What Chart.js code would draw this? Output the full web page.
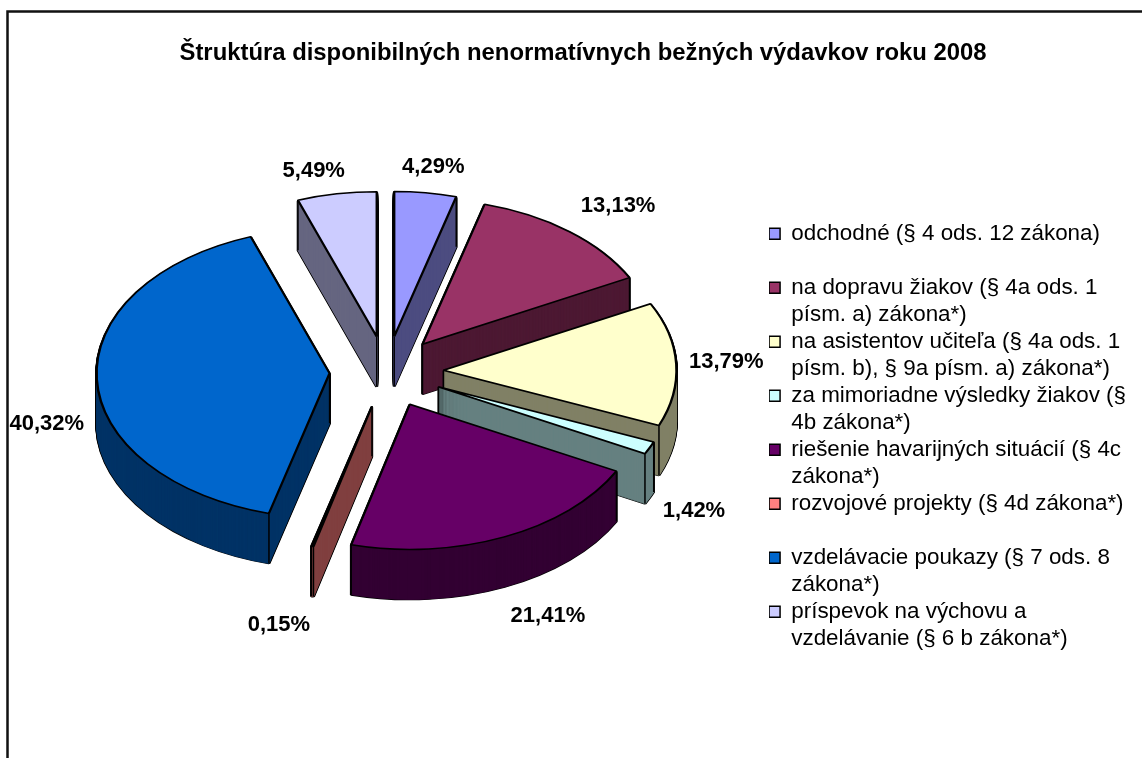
<!DOCTYPE html>
<html>
<head>
<meta charset="utf-8">
<title>Štruktúra výdavkov</title>
<script src="https://cdn.jsdelivr.net/npm/chart.js@4"></script>
<style>
  html, body { margin: 0; padding: 0; background: #fff; overflow: hidden; }
  #wrap { width: 1142px; height: 758px; }
</style>
</head>
<body>
<div id="wrap"><canvas id="pie" width="1142" height="758"></canvas></div>
<script>
const chartTitle = 'Štruktúra disponibilných nenormatívnych bežných výdavkov roku 2008';
const categories = [
    ['odchodné (§ 4 ods. 12 zákona)', ''],
    ['na dopravu žiakov (§ 4a ods. 1', 'písm. a) zákona*)'],
    ['na asistentov učiteľa (§ 4a ods. 1', 'písm. b), § 9a písm. a) zákona*)'],
    ['za mimoriadne výsledky žiakov (§', '4b zákona*)'],
    ['riešenie havarijných situácií (§ 4c', 'zákona*)'],
    ['rozvojové projekty (§ 4d zákona*)', ''],
    ['vzdelávacie poukazy (§ 7 ods. 8', 'zákona*)'],
    ['príspevok na výchovu a', 'vzdelávanie (§ 6 b zákona*)']
];
const shares = [4.29, 13.13, 13.79, 1.42, 21.41, 0.15, 40.32, 5.49];
const shareLabels = ['4,29%', '13,13%', '13,79%', '1,42%', '21,41%', '0,15%', '40,32%', '5,49%'];
const topColors = ['#9999FF', '#993366', '#FFFFCC', '#CCFFFF', '#660066', '#FF8080', '#0066CC', '#CCCCFF'];
const wallColors = ['#4D4D80', '#4D1933', '#808066', '#668080', '#330033', '#804040', '#003366', '#666680'];

// 3D look of the old Excel pie
const tilt = 0.623;
const depth = 50;
const explode = 57;
const pieRadius = 233;
const labelReach = 296;
const drawOrder = [7, 0, 1, 6, 2, 3, 4, 5];
const labelShift = [[7, -22], [45, -23], [44, -2], [39, 61], [41, 76], [-32, 75], [-44, 45], [-22, -19]];

function drawArcAt(ctx, arc, dy, opts) {
    const mid = (arc.startAngle + arc.endAngle) / 2;
    const base = arc.options;
    ctx.save();
    ctx.translate(arc.x, arc.y + dy);
    ctx.scale(1, tilt);
    ctx.translate(-arc.x, -arc.y);
    ctx.translate(Math.cos(mid) * explode, Math.sin(mid) * explode);
    arc.options = Object.assign({}, base, opts);
    arc.draw(ctx);
    arc.options = base;
    ctx.restore();
}

const pie3d = {
    id: 'pie3d',
    afterLayout(chart) {
        // legend and plot are not where the layout boxes put them in the original
        const legend = chart.legend;
        legend.top += 81;
        legend.bottom += 81;
        legend.left -= 6;
        legend.right -= 6;
        chart.chartArea.left -= 13;
        chart.chartArea.right -= 13;
    },
    beforeDatasetsDraw(chart) {
        const ctx = chart.ctx;
        const arcs = chart.getDatasetMeta(0).data;

        drawOrder.forEach(i => {
            const arc = arcs[i];
            const mid = (arc.startAngle + arc.endAngle) / 2;
            // black outline of the wall, then the wall colour over it
            for (let d = depth; d > 0; d -= 1) {
                drawArcAt(ctx, arc, d, { backgroundColor: '#000', borderColor: '#000', borderWidth: 3 });
            }
            for (let d = depth; d > 0; d -= 1) {
                drawArcAt(ctx, arc, d, { backgroundColor: wallColors[i], borderColor: wallColors[i], borderWidth: 1.2 });
            }
            // vertical edges at the corners of the slice
            const ox = arc.x + Math.cos(mid) * explode;
            const oy = arc.y + Math.sin(mid) * explode * tilt;
            const corners = [
                [ox, oy],
                [ox + Math.cos(arc.startAngle) * pieRadius, oy + Math.sin(arc.startAngle) * pieRadius * tilt],
                [ox + Math.cos(arc.endAngle) * pieRadius, oy + Math.sin(arc.endAngle) * pieRadius * tilt]
            ];
            ctx.save();
            ctx.strokeStyle = '#000';
            ctx.lineWidth = 1.5;
            corners.forEach(c => {
                ctx.beginPath();
                ctx.moveTo(c[0], c[1]);
                ctx.lineTo(c[0], c[1] + depth);
                ctx.stroke();
            });
            ctx.restore();
            drawArcAt(ctx, arc, 0, { backgroundColor: topColors[i], borderColor: '#000', borderWidth: 2.4 });
        });

        // percentage labels
        ctx.save();
        ctx.font = 'bold 22px "Liberation Sans"';
        ctx.fillStyle = '#000';
        ctx.textAlign = 'center';
        ctx.textBaseline = 'middle';
        arcs.forEach((arc, i) => {
            const mid = (arc.startAngle + arc.endAngle) / 2;
            ctx.fillText(shareLabels[i],
                arc.x + Math.cos(mid) * labelReach + labelShift[i][0],
                arc.y + Math.sin(mid) * labelReach * tilt + labelShift[i][1]);
        });
        ctx.restore();
        return false;
    },
    afterDraw(chart) {
        // page frame, open at the right and bottom
        const ctx = chart.ctx;
        ctx.save();
        ctx.strokeStyle = '#111';
        ctx.lineWidth = 2.5;
        ctx.beginPath();
        ctx.moveTo(7.5, 758);
        ctx.lineTo(7.5, 11.5);
        ctx.lineTo(1142, 11.5);
        ctx.stroke();
        ctx.restore();
    }
};

new Chart(document.getElementById('pie').getContext('2d'), {
    type: 'pie',
    plugins: [pie3d],
    data: {
        labels: categories,
        datasets: [{
            data: shares,
            backgroundColor: topColors,
            borderColor: '#000',
            borderWidth: 1.5,
            radius: pieRadius
        }]
    },
    options: {
        responsive: false,
        animation: false,
        layout: { padding: { left: 24, right: 0, top: 39, bottom: 82 } },
        plugins: {
            title: {
                display: true,
                text: chartTitle,
                color: '#000',
                font: { family: '"Liberation Sans"', size: 23.85, weight: 'bold' },
                padding: { top: 0, bottom: 0 }
            },
            legend: {
                position: 'right',
                align: 'center',
                labels: {
                    color: '#000',
                    boxWidth: 11,
                    boxHeight: 11,
                    padding: 0,
                    font: { family: '"Liberation Sans"', size: 22.4, lineHeight: 1.205 }
                }
            },
            tooltip: { enabled: false }
        }
    }
});
</script>
</body>
</html>
